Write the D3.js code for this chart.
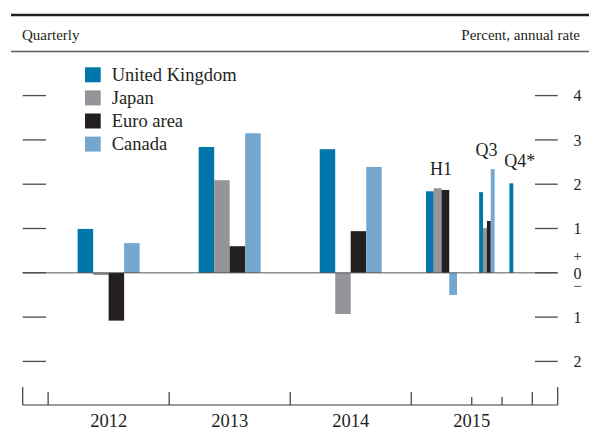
<!DOCTYPE html>
<html>
<head>
<meta charset="utf-8">
<script src="https://cdn.jsdelivr.net/npm/d3@7"></script>
<style>
  html, body { margin: 0; padding: 0; background: #fff; }
  svg { display: block; font-family: "Liberation Serif", "Times New Roman", serif; }
</style>
</head>
<body>
<svg id="chart" width="589" height="432"></svg>
<script>
// Real GDP growth by economy, percent at an annual rate
const seriesNames = ["United Kingdom", "Japan", "Euro area", "Canada"];
const periodNames = ["2012", "2013", "2014", "2015 H1", "2015 Q3", "2015 Q4"];
const periodStart = [2012, 2013, 2014, 2015, 2015.5, 2015.75];
const periodEnd   = [2013, 2014, 2015, 2015.5, 2015.75, 2016];
const ukValues     = [0.99, 2.84, 2.79, 1.84, 1.82, 2.02];
const japanValues  = [-0.05, 2.09, -0.93, 1.91, 1.01, null];
const euroValues   = [-1.08, 0.60, 0.94, 1.87, 1.17, null];
const canadaValues = [0.67, 3.15, 2.39, -0.50, 2.34, null];
const yearLabels = ["2012", "2013", "2014", "2015"];
const yTickValues = [-2, -1, 0, 1, 2, 3, 4];
const subPeriodLabels = [{ period: "2015 H1", text: "H1" },
                         { period: "2015 Q3", text: "Q3" },
                         { period: "2015 Q4", text: "Q4*" }];

const colors = ["#0076aa", "#939598", "#231f20", "#74a7cf"];
const seriesValues = [ukValues, japanValues, euroValues, canadaValues];

const svg = d3.select("#chart");

const x = d3.scaleLinear().domain([2011.79, 2016.21]).range([22.7, 557.7]);
const y = d3.scaleLinear().domain([-2, 4]).range([361.4, 95.6]);
const color = d3.scaleOrdinal().domain(seriesNames).range(colors);

// Header rules and captions
svg.append("line").attr("x1", 11).attr("x2", 589).attr("y1", 15).attr("y2", 15)
  .attr("stroke", "#231f20").attr("stroke-width", 2.6);
svg.append("line").attr("x1", 11).attr("x2", 589).attr("y1", 51.5).attr("y2", 51.5)
  .attr("stroke", "#5a5a5a").attr("stroke-width", 1.3);
svg.append("text").attr("x", 22).attr("y", 40).attr("font-size", 15)
  .attr("fill", "#231f20").text("Quarterly");
svg.append("text").attr("x", 580).attr("y", 40).attr("font-size", 15)
  .attr("text-anchor", "end").attr("fill", "#231f20").text("Percent, annual rate");

// Bars: one band per period, sized as a share of the period length
const bars = [];
periodNames.forEach((p, i) => {
  const len = periodEnd[i] - periodStart[i];
  const band = d3.scaleBand().domain(seriesNames)
    .range([x(periodStart[i] + 0.244 * len), x(periodEnd[i] - 0.244 * len)])
    .paddingInner(0).paddingOuter(0);
  seriesNames.forEach((s, j) => {
    const v = seriesValues[j][i];
    if (v === null || v === undefined) return;
    bars.push({ series: s, period: p, value: v, x0: band(s), w: band.bandwidth() });
  });
});

svg.append("g").selectAll("rect").data(bars).join("rect")
  .attr("x", d => d.x0)
  .attr("width", d => d.w)
  .attr("y", d => y(Math.max(0, d.value)))
  .attr("height", d => Math.abs(y(d.value) - y(0)))
  .attr("fill", d => color(d.series));

// Zero line over the bars
svg.append("line").attr("x1", x.range()[0]).attr("x2", x.range()[1])
  .attr("y1", y(0)).attr("y2", y(0))
  .attr("stroke", "rgba(70,70,70,0.6)").attr("stroke-width", 1.5);

// Left and right tick dashes
const tickG = svg.append("g").attr("stroke", "#4a4a4a").attr("stroke-width", 1.3);
tickG.selectAll("line.l").data(yTickValues).join("line").attr("class", "l")
  .attr("x1", 22.7).attr("x2", 46).attr("y1", d => y(d)).attr("y2", d => y(d));
tickG.selectAll("line.r").data(yTickValues).join("line").attr("class", "r")
  .attr("x1", 535).attr("x2", 557.7).attr("y1", d => y(d)).attr("y2", d => y(d));

// Right-hand value labels (magnitudes); zero carries the +/- signs
svg.append("g").selectAll("text").data(yTickValues.filter(d => d !== 0)).join("text")
  .attr("x", 573.5).attr("y", d => y(d)).attr("dy", "0.36em")
  .attr("font-size", 16).attr("fill", "#231f20")
  .text(d => Math.abs(d));
const zeroLabel = svg.append("text").attr("font-size", 16).attr("fill", "#231f20")
  .attr("text-anchor", "middle");
zeroLabel.append("tspan").attr("x", 577.5).attr("y", y(0) - 12).attr("font-size", 15).text("+");
zeroLabel.append("tspan").attr("x", 577.5).attr("y", y(0) + 5.8).text("0");
zeroLabel.append("tspan").attr("x", 577.5).attr("y", y(0) + 18.5).attr("font-size", 15).text("\u2212");

// Bottom time axis
const axisY = 405;
const axG = svg.append("g").attr("stroke", "#3a3a3a").attr("stroke-width", 1.2).attr("fill", "none");
axG.append("line").attr("x1", x.range()[0]).attr("x2", x.range()[1]).attr("y1", axisY).attr("y2", axisY);
axG.selectAll("line.end").data(x.domain()).join("line").attr("class", "end")
  .attr("x1", d => x(d)).attr("x2", d => x(d)).attr("y1", axisY - 18).attr("y2", axisY);
axG.selectAll("line.yr").data([2012, 2013, 2014, 2015, 2016]).join("line").attr("class", "yr")
  .attr("x1", d => x(d)).attr("x2", d => x(d)).attr("y1", axisY - 13).attr("y2", axisY);
axG.selectAll("line.sub").data([2015.5, 2015.75]).join("line").attr("class", "sub")
  .attr("x1", d => x(d)).attr("x2", d => x(d)).attr("y1", axisY - 8).attr("y2", axisY);

svg.append("g").selectAll("text").data(yearLabels).join("text")
  .attr("x", d => x(+d + 0.5)).attr("y", 427)
  .attr("text-anchor", "middle").attr("font-size", 18.5).attr("fill", "#231f20")
  .text(d => d);

// Sub-period annotations above the 2015 bars
subPeriodLabels.forEach(lab => {
  const i = periodNames.indexOf(lab.period);
  const mid = (periodStart[i] + periodEnd[i]) / 2;
  const top = d3.max(seriesValues, s => s[i] === null ? undefined : s[i]);
  const isQ4 = lab.text === "Q4*";
  svg.append("text")
    .attr("x", x(mid) + (isQ4 ? 2.5 : -0.5))
    .attr("y", y(top) - (isQ4 ? 16 : 13.5))
    .attr("text-anchor", "middle").attr("font-size", 18).attr("fill", "#231f20")
    .text(lab.text);
});

// Legend
const legend = svg.append("g").selectAll("g").data(seriesNames).join("g")
  .attr("transform", (d, i) => `translate(85, ${67.3 + i * 23.1})`);
legend.append("rect").attr("width", 15.7).attr("height", 15).attr("fill", d => color(d));
legend.append("text").attr("x", 26.7).attr("y", 13.7).attr("font-size", 18.5)
  .attr("fill", "#231f20").text(d => d);
</script>
</body>
</html>
